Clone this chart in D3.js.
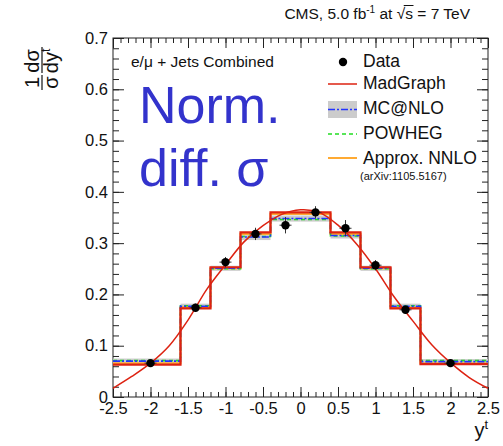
<!DOCTYPE html>
<html>
<head>
<meta charset="utf-8">
<script src="https://cdn.jsdelivr.net/npm/d3@7"></script>
<style>
  body { margin: 0; background: #fff; }
  text { font-family: "Liberation Sans", Arial, Helvetica, sans-serif; fill: #111; }
</style>
</head>
<body>
<svg id="chart" width="503" height="446"></svg>
<script>
// bins of the top-quark rapidity
var binEdges = [-2.5, -1.6, -1.2, -0.8, -0.4, 0, 0.4, 0.8, 1.2, 1.6, 2.5];

// measured points
var dataX   = [-2.0, -1.4, -1.0, -0.6, -0.2, 0.2, 0.6, 1.0, 1.4, 2.0];
var dataY   = [0.066, 0.174, 0.263, 0.318, 0.335, 0.360, 0.329, 0.257, 0.170, 0.066];
var dataErr = [0.005, 0.008, 0.010, 0.012, 0.016, 0.012, 0.016, 0.010, 0.008, 0.005];

// predictions per bin
var madgraph = [0.063, 0.173, 0.253, 0.321, 0.360, 0.360, 0.321, 0.253, 0.173, 0.064];
var mcatnlo  = [0.070, 0.177, 0.251, 0.312, 0.348, 0.348, 0.315, 0.251, 0.177, 0.069];
var mcatnloUnc = [0.005, 0.005, 0.005, 0.006, 0.006, 0.006, 0.006, 0.005, 0.005, 0.005];
var powheg   = [0.071, 0.178, 0.250, 0.313, 0.346, 0.346, 0.314, 0.250, 0.178, 0.071];
var nnlo     = [0.066, 0.175, 0.251, 0.318, 0.357, 0.357, 0.318, 0.251, 0.174, 0.066];

// smooth MadGraph curve
var curveX = [-2.5, -2.25, -2.0, -1.75, -1.5, -1.25, -1.0, -0.75, -0.5, -0.25, 0, 0.25, 0.5, 0.75, 1.0, 1.25, 1.5, 1.75, 2.0, 2.25, 2.5];
var curveY = [0.017, 0.040, 0.066, 0.100, 0.150, 0.210, 0.258, 0.303, 0.334, 0.356, 0.365, 0.360, 0.335, 0.298, 0.250, 0.195, 0.148, 0.102, 0.067, 0.038, 0.017];

// ticks
var xMajor = [-2.5, -2, -1.5, -1, -0.5, 0, 0.5, 1, 1.5, 2, 2.5];
var yMajor = [0, 0.1, 0.2, 0.3, 0.4, 0.5, 0.6, 0.7];

var legendLabels = ["Data", "MadGraph", "MC@NLO", "POWHEG", "Approx. NNLO"];

var svg = d3.select("#chart");
var pLeft = 113, pRight = 488, pTop = 38, pBottom = 397;

var x = d3.scaleLinear().domain([-2.5, 2.5]).range([pLeft, pRight]);
var y = d3.scaleLinear().domain([0, 0.7]).range([pBottom, pTop]);

var xMinor = d3.range(-25, 26).map(function (d) { return d / 10; });
var yMinor = d3.range(0, 36).map(function (d) { return d / 50; });

var axisColor = "#222";

function styleAxis(g) {
  g.select(".domain").remove();
  g.selectAll(".tick line").attr("stroke", axisColor);
  g.selectAll("text").style("font-size", "16.5px").attr("fill", "#111");
}

// bottom axis
svg.append("g").attr("transform", "translate(0," + pBottom + ")")
  .call(d3.axisBottom(x).tickValues(xMinor).tickSize(-5).tickFormat(""))
  .call(styleAxis);
svg.append("g").attr("transform", "translate(0," + pBottom + ")")
  .call(d3.axisBottom(x).tickValues(xMajor).tickSize(-10).tickPadding(5)
        .tickFormat(function (d) { return String(d); }))
  .call(styleAxis);
// top axis
svg.append("g").attr("transform", "translate(0," + pTop + ")")
  .call(d3.axisTop(x).tickValues(xMinor).tickSize(-5).tickFormat(""))
  .call(styleAxis);
svg.append("g").attr("transform", "translate(0," + pTop + ")")
  .call(d3.axisTop(x).tickValues(xMajor).tickSize(-10).tickFormat(""))
  .call(styleAxis);
// left axis
svg.append("g").attr("transform", "translate(" + pLeft + ",0)")
  .call(d3.axisLeft(y).tickValues(yMinor).tickSize(-6).tickFormat(""))
  .call(styleAxis);
svg.append("g").attr("transform", "translate(" + pLeft + ",0)")
  .call(d3.axisLeft(y).tickValues(yMajor).tickSize(-11).tickPadding(5)
        .tickFormat(function (d) { return d === 0 ? "0" : d3.format(".1f")(d); }))
  .call(styleAxis);
// right axis
svg.append("g").attr("transform", "translate(" + pRight + ",0)")
  .call(d3.axisRight(y).tickValues(yMinor).tickSize(-6).tickFormat(""))
  .call(styleAxis);
svg.append("g").attr("transform", "translate(" + pRight + ",0)")
  .call(d3.axisRight(y).tickValues(yMajor).tickSize(-11).tickFormat(""))
  .call(styleAxis);

svg.selectAll("g.tick text").attr("font-family", null).attr("font-size", null);

// frame
svg.append("rect")
  .attr("x", pLeft).attr("y", pTop)
  .attr("width", pRight - pLeft).attr("height", pBottom - pTop)
  .attr("fill", "none").attr("stroke", axisColor).attr("stroke-width", 1);

// histogram helper
function stepPoints(vals) {
  var pts = [];
  vals.forEach(function (v, i) {
    pts.push([binEdges[i], v]);
    pts.push([binEdges[i + 1], v]);
  });
  return pts;
}
var line = d3.line().x(function (d) { return x(d[0]); }).y(function (d) { return y(d[1]); });

// MC@NLO uncertainty band
svg.append("g").selectAll("rect")
  .data(mcatnlo)
  .enter().append("rect")
  .attr("x", function (d, i) { return x(binEdges[i]); })
  .attr("width", function (d, i) { return x(binEdges[i + 1]) - x(binEdges[i]); })
  .attr("y", function (d, i) { return y(d + mcatnloUnc[i]); })
  .attr("height", function (d, i) { return y(d - mcatnloUnc[i]) - y(d + mcatnloUnc[i]); })
  .attr("fill", "#cccccc");

svg.append("path").attr("d", line(stepPoints(nnlo)))
  .attr("fill", "none").attr("stroke", "#ffaa33").attr("stroke-width", 2);
svg.append("path").attr("d", line(stepPoints(powheg)))
  .attr("fill", "none").attr("stroke", "#22dd22").attr("stroke-width", 1.6)
  .attr("stroke-dasharray", "4,3");
svg.append("path").attr("d", line(stepPoints(mcatnlo)))
  .attr("fill", "none").attr("stroke", "#2233ff").attr("stroke-width", 1.6)
  .attr("stroke-dasharray", "7,2,2,2");
svg.append("path").attr("d", line(stepPoints(madgraph)))
  .attr("fill", "none").attr("stroke", "#dd2211").attr("stroke-width", 2.2);

// smooth curve
var curveLine = d3.line().curve(d3.curveCatmullRom)
  .x(function (d) { return x(d[0]); }).y(function (d) { return y(d[1]); });
svg.append("path").attr("d", curveLine(d3.zip(curveX, curveY)))
  .attr("fill", "none").attr("stroke", "#dd2211").attr("stroke-width", 1.5);

// data points with error bars
var pts = svg.append("g");
dataX.forEach(function (dx, i) {
  pts.append("line")
    .attr("x1", x(dx)).attr("x2", x(dx))
    .attr("y1", y(dataY[i] - dataErr[i])).attr("y2", y(dataY[i] + dataErr[i]))
    .attr("stroke", "#333").attr("stroke-width", 1);
  pts.append("line")
    .attr("x1", x(dx) - 6).attr("x2", x(dx) + 6)
    .attr("y1", y(dataY[i])).attr("y2", y(dataY[i]))
    .attr("stroke", "#333").attr("stroke-width", 1);
  pts.append("circle")
    .attr("cx", x(dx)).attr("cy", y(dataY[i])).attr("r", 4.2)
    .attr("fill", "#000");
});

// legend
var lg = svg.append("g");
var lgText = [67, 89, 114, 139, 164];
lg.append("circle").attr("cx", 343).attr("cy", 62).attr("r", 4.2).attr("fill", "#000");
lg.append("line").attr("x1", 328).attr("x2", 357).attr("y1", 84).attr("y2", 84)
  .attr("stroke", "#dd2211").attr("stroke-width", 1.5);
lg.append("rect").attr("x", 328).attr("y", 101).attr("width", 29).attr("height", 17).attr("fill", "#cccccc");
lg.append("line").attr("x1", 328).attr("x2", 357).attr("y1", 109.5).attr("y2", 109.5)
  .attr("stroke", "#2233ff").attr("stroke-width", 1.5).attr("stroke-dasharray", "7,2,2,2");
lg.append("line").attr("x1", 328).attr("x2", 357).attr("y1", 134).attr("y2", 134)
  .attr("stroke", "#22dd22").attr("stroke-width", 1.5).attr("stroke-dasharray", "4,3");
lg.append("line").attr("x1", 328).attr("x2", 357).attr("y1", 158).attr("y2", 158)
  .attr("stroke", "#ffaa33").attr("stroke-width", 2);
lg.selectAll("text.lab").data(legendLabels).enter().append("text")
  .attr("class", "lab")
  .attr("x", 363).attr("y", function (d, i) { return lgText[i]; })
  .style("font-size", "17.5px").text(function (d) { return d; });
lg.append("text").attr("x", 360).attr("y", 180).style("font-size", "11px")
  .text("(arXiv:1105.5167)");

// labels inside the frame
svg.append("text").attr("x", 131).attr("y", 67).style("font-size", "15.5px")
  .text("e/\u03bc + Jets Combined");
svg.append("text").attr("x", 139).attr("y", 123).style("font-size", "52px")
  .style("fill", "#3333cc").text("Norm.");
svg.append("text").attr("x", 139).attr("y", 186).style("font-size", "52px")
  .style("fill", "#3333cc").text("diff. \u03c3");

// title
var title = svg.append("text").attr("x", 470).attr("y", 19).attr("text-anchor", "end")
  .style("font-size", "15.5px");
title.append("tspan").text("CMS, 5.0 fb");
title.append("tspan").attr("dy", -6).style("font-size", "10px").text("-1");
title.append("tspan").attr("dy", 6).text(" at ");
title.append("tspan").text("\u221as = 7 TeV");
var full = title.text();
var sIdx = full.indexOf("\u221a") + 1;
var sEnd = title.node().getEndPositionOfChar(sIdx);
var rStart = title.node().getStartPositionOfChar(sIdx - 1);
svg.append("line").attr("x1", rStart.x + 7).attr("x2", sEnd.x + 0.5)
  .attr("y1", 5.5).attr("y2", 5.5).attr("stroke", "#111").attr("stroke-width", 1);

// y axis title: 1/sigma dsigma/dy^t
var yl = svg.append("g").attr("transform", "translate(42,91) rotate(-90)");
yl.append("text").attr("x", 8.5).attr("y", -3).attr("text-anchor", "middle")
  .style("font-size", "20px").text("1");
yl.append("line").attr("x1", 1).attr("x2", 16).attr("y1", 0).attr("y2", 0)
  .attr("stroke", "#111").attr("stroke-width", 1.2);
yl.append("text").attr("x", 8.5).attr("y", 16).attr("text-anchor", "middle")
  .style("font-size", "20px").text("\u03c3");
yl.append("text").attr("x", 30).attr("y", -3).attr("text-anchor", "middle")
  .style("font-size", "20px").text("d\u03c3");
yl.append("line").attr("x1", 18).attr("x2", 44).attr("y1", 0).attr("y2", 0)
  .attr("stroke", "#111").attr("stroke-width", 1.2);
var dyt = yl.append("text").attr("x", 30).attr("y", 16).attr("text-anchor", "middle")
  .style("font-size", "20px");
dyt.append("tspan").text("dy");
dyt.append("tspan").attr("dy", -8).style("font-size", "12px").text("t");

// x axis title
var xt = svg.append("text").attr("x", 488).attr("y", 437).attr("text-anchor", "end")
  .style("font-size", "20px");
xt.append("tspan").text("y");
xt.append("tspan").attr("dy", -8).style("font-size", "13px").text("t");
</script>
</body>
</html>
